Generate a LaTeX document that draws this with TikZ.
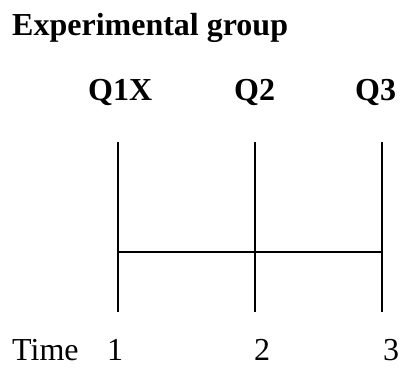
\documentclass[tikz,border=0pt]{standalone}
\usepackage{fontspec}
\setmainfont{Liberation Serif}
\usepackage{tikz}
\usetikzlibrary{positioning}

\begin{document}
\begin{tikzpicture}[
  x=1pt,y=-1pt,
  lbl/.style={inner sep=0pt,anchor=base west,font=\fontsize{32}{36}\selectfont\bfseries},
  tick/.style={inner sep=0pt,anchor=base,font=\fontsize{32}{36}\selectfont},
  bar/.style={line width=2pt,draw=black}
]
\useasboundingbox (0,0) rectangle (401,367);
\node[lbl] (title) at (12,35) {Experimental group};
\node[lbl] (q1) at (88,100) {Q1X};
\node[lbl] (q2) at (234,100) {Q2};
\node[lbl] (q3) at (355,100) {Q3};
\node[tick,anchor=base west] (time) at (12,360) {Time};
\node[tick] (t1) at (115,360) {1};
\node[tick] (t2) at (262,360) {2};
\node[tick] (t3) at (391,360) {3};
% time lines
\coordinate (top1) at (118,142); \coordinate (bot1) at (118,312);
\coordinate (top2) at (255,142); \coordinate (bot2) at (255,312);
\coordinate (top3) at (382,142); \coordinate (bot3) at (382,312);
\coordinate (mid1) at (118,252); \coordinate (mid3) at (382,252);
\draw[bar] (top1)--(bot1); \draw[bar] (top2)--(bot2); \draw[bar] (top3)--(bot3);
\draw[bar] (mid1)--(mid3);
\end{tikzpicture}
\end{document}
